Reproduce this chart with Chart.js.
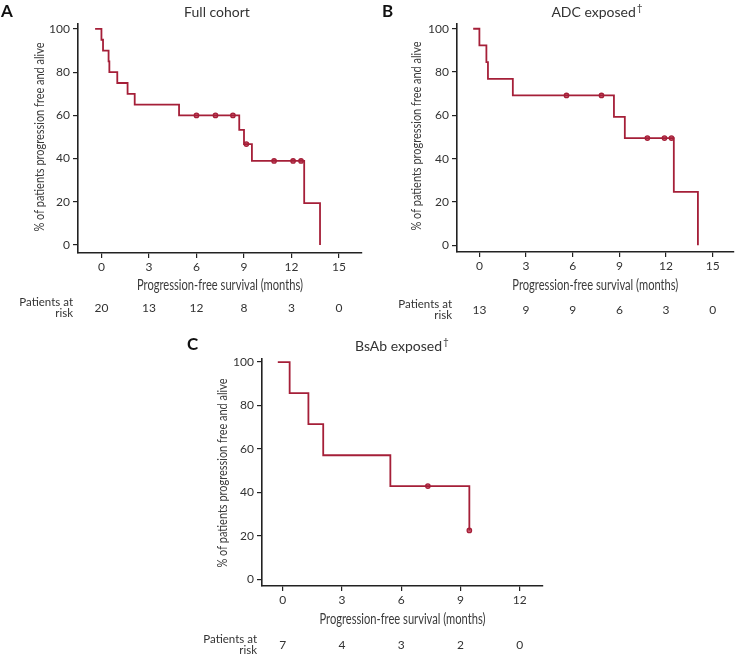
<!DOCTYPE html>
<html>
<head>
<meta charset="utf-8">
<script src="https://cdn.jsdelivr.net/npm/chart.js@4.4.0/dist/chart.umd.min.js"></script>
<style>
  body { margin: 0; background: #fff; }
  #wrap { position: relative; width: 739px; height: 658px; }
  canvas { position: absolute; }
</style>
</head>
<body>
<div id="wrap">
  <canvas id="chartA" width="370" height="320" style="left:0;top:0"></canvas>
  <canvas id="chartB" width="369" height="320" style="left:370px;top:0"></canvas>
  <canvas id="chartC" width="380" height="333" style="left:180px;top:325px"></canvas>
</div>
<script>
// Panel A - full cohort
var timesA = [-0.4, 0, 0.1, 0.45, 0.5, 1.0, 1.65, 2.1, 4.9, 8.7, 9.0, 9.5, 12.8, 13.8];
var survA = [100, 95, 90, 85, 80, 75, 70, 65, 60, 53.3, 46.7, 38.9, 19.4, 0];
var censorTimesA = [6.0, 7.2, 8.3, 9.15, 10.9, 12.1, 12.6];
var censorSurvA = [60, 60, 60, 46.7, 38.9, 38.9, 38.9];
var riskTimesA = [0, 3, 6, 9, 12, 15];
var riskA = [20, 13, 12, 8, 3, 0];

// Panel B - ADC exposed
var timesB = [-0.4, 0, 0.45, 0.55, 2.15, 8.65, 9.35, 12.5, 14.05];
var survB = [100, 92.3, 84.6, 76.9, 69.2, 59.3, 49.5, 24.7, 0];
var censorTimesB = [5.6, 7.85, 10.8, 11.9, 12.35];
var censorSurvB = [69.2, 69.2, 49.5, 49.5, 49.5];
var riskTimesB = [0, 3, 6, 9, 12, 15];
var riskB = [13, 9, 9, 6, 3, 0];

// Panel C - BsAb exposed
var timesC = [-0.25, 0.35, 1.3, 2.05, 5.45, 9.45];
var survC = [100, 85.7, 71.4, 57.1, 42.9, 22.5];
var censorTimesC = [7.35, 9.45];
var censorSurvC = [42.9, 22.5];
var riskTimesC = [0, 3, 6, 9, 12];
var riskC = [7, 4, 3, 2, 0];

var yTicks = [0, 20, 40, 60, 80, 100];
var lineColor = '#a51f38';
var axisColor = '#222';
var tickFont = { family: 'Lato, sans-serif', size: 12 };

function fitText(ctx, text, x, y, width, angle) {
  var w = ctx.measureText(text).width;
  ctx.save();
  ctx.translate(x, y);
  if (angle) ctx.rotate(angle);
  ctx.scale(width / w, 1);
  ctx.textAlign = 'center';
  ctx.textBaseline = 'middle';
  ctx.fillText(text, 0, 0);
  ctx.restore();
}

function textPlugin(p) {
  return {
    id: 'panelText',
    afterDraw: function (chart) {
      var ctx = chart.ctx;
      var xs = chart.scales.x;
      ctx.save();
      // panel letter
      ctx.fillStyle = '#111';
      ctx.font = 'bold 17px Lato, sans-serif';
      ctx.textAlign = 'left';
      ctx.textBaseline = 'middle';
      ctx.fillText(p.letter, p.letterX, p.letterY);

      // title with optional dagger
      ctx.fillStyle = '#333';
      ctx.font = '14px Lato, sans-serif';
      var mw = ctx.measureText(p.title).width;
      var dw = 0;
      if (p.dagger) {
        ctx.font = '10px Lato, sans-serif';
        dw = ctx.measureText('\u2020').width + 1;
      }
      var sx = p.titleX - (mw + dw) / 2;
      ctx.font = '14px Lato, sans-serif';
      ctx.fillText(p.title, sx, p.titleY);
      if (p.dagger) {
        ctx.font = '10px Lato, sans-serif';
        ctx.fillText('\u2020', sx + mw + 1, p.titleY - 4);
      }

      // axis titles
      ctx.fillStyle = '#3a3a3a';
      ctx.font = '14.5px Lato, sans-serif';
      fitText(ctx, 'Progression-free survival (months)', (chart.chartArea.left + chart.chartArea.right) / 2, p.xTitleY, 166);
      ctx.font = '14px Lato, sans-serif';
      fitText(ctx, '% of patients progression free and alive', p.yTitleX, p.yTitleY, 189, -Math.PI / 2);

      // patients at risk
      ctx.fillStyle = '#333';
      ctx.font = '11.5px Lato, sans-serif';
      ctx.textAlign = 'right';
      ctx.textBaseline = 'middle';
      ctx.fillText('Patients at', p.riskLabelX, p.riskY1);
      ctx.fillText('risk', p.riskLabelX, p.riskY2);
      ctx.font = '12px Lato, sans-serif';
      ctx.textAlign = 'center';
      p.riskTimes.forEach(function (t, i) {
        ctx.fillText(String(p.risk[i]), xs.getPixelForValue(t), p.riskNumY);
      });
      ctx.restore();
    }
  };
}

function buildPanel(id, p) {
  var canvas = document.getElementById(id);
  var W = canvas.width, H = canvas.height;
  var curve = p.times.map(function (t, i) { return { x: t, y: p.surv[i] }; });
  var censors = p.censorTimes.map(function (t, i) { return { x: t, y: p.censorSurv[i] }; });
  return new Chart(canvas.getContext('2d'), {
    type: 'line',
    data: {
      datasets: [{
        data: curve,
        stepped: 'before',
        borderColor: lineColor,
        borderWidth: 1.8,
        pointRadius: 0,
        fill: false
      }, {
        data: censors,
        showLine: false,
        pointStyle: 'circle',
        pointRadius: 2.2,
        pointBorderWidth: 1.3,
        pointBorderColor: lineColor,
        pointBackgroundColor: '#cf6276'
      }]
    },
    options: {
      responsive: false,
      animation: false,
      events: [],
      layout: { padding: { left: 0, top: p.area.top, right: W - p.area.right, bottom: 0 } },
      plugins: { legend: { display: false }, tooltip: { enabled: false } },
      scales: {
        x: {
          type: 'linear',
          min: p.xMin,
          max: p.xMax,
          afterBuildTicks: function (scale) {
            scale.ticks = p.xTicks.map(function (v) { return { value: v }; });
          },
          afterFit: function (scale) { scale.height = H - p.area.bottom; },
          border: { color: axisColor, width: 1.6 },
          grid: { drawOnChartArea: false, drawTicks: true, tickLength: 5, color: axisColor, lineWidth: 1.2 },
          ticks: { font: tickFont, color: '#333', padding: 2, maxRotation: 0 }
        },
        y: {
          type: 'linear',
          min: p.yMin,
          max: p.yMax,
          afterBuildTicks: function (scale) {
            scale.ticks = yTicks.map(function (v) { return { value: v }; });
          },
          afterFit: function (scale) { scale.width = p.area.left; },
          border: { color: axisColor, width: 1.6 },
          grid: { drawOnChartArea: false, drawTicks: true, tickLength: 5, color: axisColor, lineWidth: 1.2 },
          ticks: { font: tickFont, color: '#333', padding: 3 }
        }
      }
    },
    plugins: [textPlugin(p)]
  });
}

buildPanel('chartA', {
  times: timesA, surv: survA, censorTimes: censorTimesA, censorSurv: censorSurvA,
  riskTimes: riskTimesA, risk: riskA, xTicks: riskTimesA,
  xMin: -1.48, xMax: 16.45, yMin: -3.7, yMax: 102.3,
  area: { left: 78, top: 24, right: 362, bottom: 253 },
  letter: 'A', letterX: 1, letterY: 12,
  title: 'Full cohort', dagger: false, titleX: 217, titleY: 12,
  xTitleY: 285, yTitleX: 39, yTitleY: 137,
  riskLabelX: 73, riskY1: 302, riskY2: 313, riskNumY: 308
});

buildPanel('chartB', {
  times: timesB, surv: survB, censorTimes: censorTimesB, censorSurv: censorSurvB,
  riskTimes: riskTimesB, risk: riskB, xTicks: riskTimesB,
  xMin: -1.44, xMax: 16.35, yMin: -3.1, yMax: 102.2,
  area: { left: 87, top: 24, right: 369, bottom: 252 },
  letter: 'B', letterX: 12, letterY: 12,
  title: 'ADC exposed', dagger: true, titleX: 227, titleY: 12,
  xTitleY: 285, yTitleX: 46, yTitleY: 136,
  riskLabelX: 82, riskY1: 304, riskY2: 315, riskNumY: 310
});

buildPanel('chartC', {
  times: timesC, surv: survC, censorTimes: censorTimesC, censorSurv: censorSurvC,
  riskTimes: riskTimesC, risk: riskC, xTicks: riskTimesC,
  xMin: -1.05, xMax: 13.18, yMin: -3.1, yMax: 101.4,
  area: { left: 82, top: 34, right: 363, bottom: 261 },
  letter: 'C', letterX: 7, letterY: 20,
  title: 'BsAb exposed', dagger: true, titleX: 222, titleY: 21,
  xTitleY: 294, yTitleX: 42, yTitleY: 148,
  riskLabelX: 77, riskY1: 314, riskY2: 325, riskNumY: 320
});
</script>
</body>
</html>
